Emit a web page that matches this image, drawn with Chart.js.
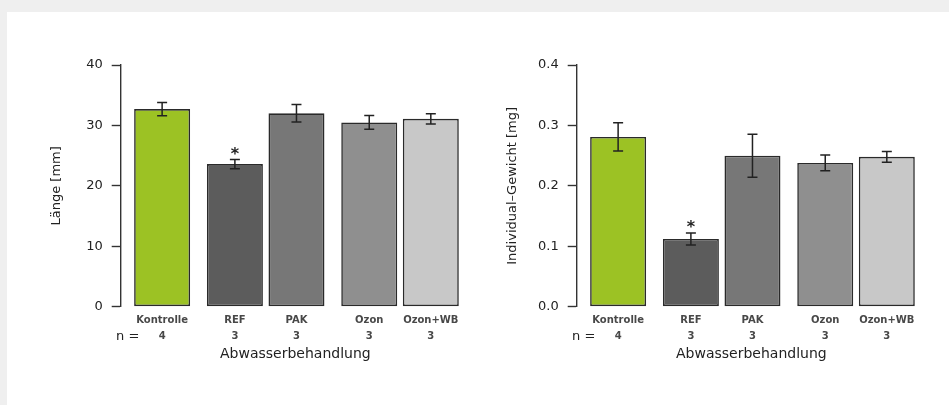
<!DOCTYPE html>
<html>
<head>
<meta charset="utf-8">
<script src="https://cdn.jsdelivr.net/npm/chart.js@4.4.0/dist/chart.umd.min.js"></script>
<style>
  body { margin: 0; background: #efefef; width: 949px; height: 405px; overflow: hidden; position: relative; }
  .panel { position: absolute; left: 7px; top: 12px; right: 0; bottom: 0; background: #fff; }
  canvas { position: absolute; top: 0; }
  #laenge { left: 0; }
  #gewicht { left: 456px; }
</style>
</head>
<body>
<div class="panel"></div>
<canvas id="laenge" width="480" height="405"></canvas>
<canvas id="gewicht" width="480" height="405"></canvas>
<script>
// treatments and sample sizes
const treatments = ['Kontrolle', 'REF', 'PAK', 'Ozon', 'Ozon+WB'];
const nCounts = ['4', '3', '3', '3', '3'];
// bar positions along x (barplot spacing, groups separated)
const slots = [0.8, 2.1, 3.2, 4.5, 5.6];
const barColors = ['#9cc224', '#5c5c5c', '#777777', '#8f8f8f', '#c8c8c8'];
const signif = [false, true, false, false, false];

// Länge [mm]
const laenge = [32.7, 23.6, 32.0, 30.5, 31.1];
const laengeErr = [1.1, 0.75, 1.45, 1.15, 0.85];

// Individual-Gewicht [mg]
const gewicht = [0.281, 0.112, 0.250, 0.238, 0.248];
const gewichtErr = [0.0235, 0.010, 0.0356, 0.013, 0.009];

const FONT = "'DejaVu Sans', sans-serif";
const ink = '#222';

// error bars + asterisk, drawn through the chart scales
const errorBarPlugin = {
    id: 'errorBars',
    afterDatasetsDraw(chart, args, opts) {
        const ctx = chart.ctx;
        const xs = chart.scales.x;
        const ys = chart.scales.y;
        ctx.save();
        ctx.strokeStyle = ink;
        ctx.lineWidth = 1.5;
        opts.values.forEach((v, i) => {
            const px = xs.getPixelForValue(slots[i]);
            const top = ys.getPixelForValue(v + opts.errors[i]);
            const bot = ys.getPixelForValue(v - opts.errors[i]);
            ctx.beginPath();
            ctx.moveTo(px, top); ctx.lineTo(px, bot);
            ctx.moveTo(px - 5, top); ctx.lineTo(px + 5, top);
            ctx.moveTo(px - 5, bot); ctx.lineTo(px + 5, bot);
            ctx.stroke();
            if (signif[i]) {
                ctx.fillStyle = ink;
                ctx.font = 'bold 16px ' + FONT;
                ctx.textAlign = 'center';
                ctx.textBaseline = 'alphabetic';
                ctx.fillText('*', px, top - 9.5 + 9);
            }
        });
        // "n =" in front of the sample sizes
        ctx.fillStyle = ink;
        ctx.font = '13px ' + FONT;
        ctx.textAlign = 'center';
        ctx.textBaseline = 'middle';
        ctx.fillText('n =', chart.chartArea.left + 7, chart.chartArea.bottom + 30);
        ctx.restore();
    }
};

function makeChart(id, values, errors, yMax, yStep, yTitle, decimals) {
    const ctx = document.getElementById(id).getContext('2d');
    return new Chart(ctx, {
        type: 'bar',
        data: {
            datasets: [{
                data: slots.map((s, i) => ({ x: s, y: values[i] })),
                backgroundColor: barColors,
                borderColor: '#2a2a2a',
                borderWidth: 1.6,
                borderSkipped: false,
                categoryPercentage: 1,
                barPercentage: 1 / 1.1
            }]
        },
        options: {
            responsive: false,
            animation: false,
            layout: { padding: { left: 0, top: 65, right: 10, bottom: 0 } },
            plugins: {
                legend: { display: false },
                tooltip: { enabled: false },
                errorBars: { values: values, errors: errors }
            },
            scales: {
                x: {
                    type: 'linear',
                    offset: false,
                    min: 0.06,
                    max: 6.3,
                    afterBuildTicks: scale => {
                        scale.ticks = slots.map(s => ({ value: s }));
                    },
                    afterFit: scale => { scale.height = 98.3; },
                    grid: { display: false, drawTicks: false },
                    border: { display: false },
                    ticks: {
                        autoSkip: false,
                        maxRotation: 0,
                        padding: 5,
                        color: '#484848',
                        font: { family: FONT, size: 10, weight: 'bold', lineHeight: 1.67 },
                        callback: (val, idx) => [treatments[idx], nCounts[idx]]
                    },
                    title: {
                        display: true,
                        text: 'Abwasserbehandlung',
                        color: ink,
                        font: { family: FONT, size: 14 },
                        padding: { top: 0, bottom: 42.6 }
                    }
                },
                y: {
                    min: 0,
                    max: yMax,
                    afterFit: scale => { scale.width = 120.7; },
                    grid: {
                        drawOnChartArea: false,
                        drawTicks: true,
                        tickLength: 9,
                        tickColor: '#333',
                        tickWidth: 1.4
                    },
                    border: { display: true, color: '#333', width: 1.4 },
                    ticks: {
                        stepSize: yStep,
                        padding: 9,
                        color: ink,
                        font: { family: FONT, size: 13 },
                        callback: v => v.toFixed(decimals)
                    },
                    title: {
                        display: true,
                        text: yTitle,
                        color: ink,
                        font: { family: FONT, size: 13 },
                        padding: { top: 48.9, bottom: 0 }
                    }
                }
            }
        },
        plugins: [errorBarPlugin]
    });
}

makeChart('laenge', laenge, laengeErr, 40, 10, 'Länge [mm]', 0);
makeChart('gewicht', gewicht, gewichtErr, 0.4, 0.1, 'Individual–Gewicht [mg]', 1);
</script>
</body>
</html>
